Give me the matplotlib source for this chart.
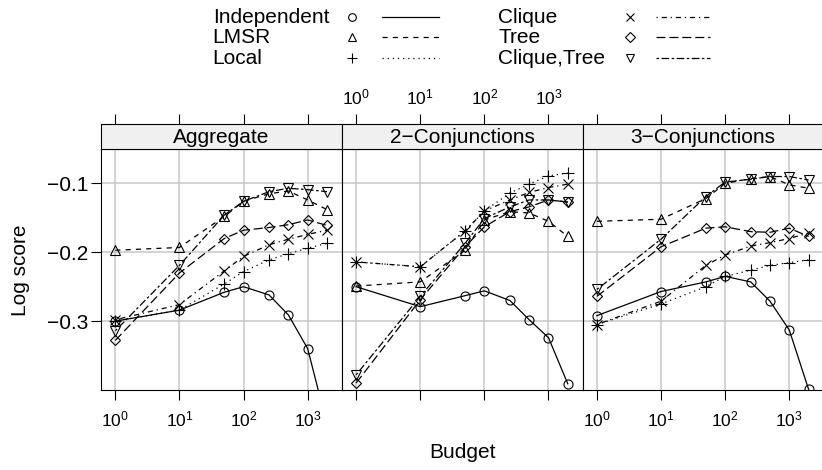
import matplotlib
matplotlib.use('Agg')
import matplotlib.pyplot as plt

plt.rcParams['font.family'] = ['Liberation Sans', 'DejaVu Sans']
plt.rcParams['mathtext.fontset'] = 'custom'
plt.rcParams['mathtext.rm'] = 'Liberation Sans'
plt.rcParams['lines.scale_dashes'] = False

# budgets on the x axis
budget = [1, 10, 50, 100, 250, 500, 1000, 2000]
panels = ['Aggregate', '2\u2212Conjunctions', '3\u2212Conjunctions']
methods = ['Independent', 'LMSR', 'Local', 'Clique', 'Tree', 'Clique,Tree']

# log scores
agg_independent = [-0.300, -0.284, -0.258, -0.250, -0.262, -0.291, -0.340, -0.450]
agg_lmsr = [-0.197, -0.193, -0.148, -0.126, -0.115, -0.111, -0.124, -0.138]
agg_local = [-0.300, -0.284, -0.246, -0.228, -0.211, -0.202, -0.194, -0.187]
agg_clique = [-0.298, -0.276, -0.227, -0.206, -0.189, -0.181, -0.174, -0.168]
agg_tree = [-0.328, -0.230, -0.180, -0.168, -0.164, -0.160, -0.153, -0.161]
agg_cliquetree = [-0.314, -0.219, -0.146, -0.126, -0.112, -0.107, -0.109, -0.112]

c2_independent = [-0.250, -0.279, -0.263, -0.256, -0.270, -0.298, -0.324, -0.391]
c2_lmsr = [-0.249, -0.243, -0.197, -0.153, -0.141, -0.143, -0.155, -0.177]
c2_local = [-0.214, -0.221, -0.169, -0.140, -0.114, -0.101, -0.089, -0.085]
c2_clique = [-0.214, -0.221, -0.169, -0.140, -0.124, -0.113, -0.106, -0.101]
c2_tree = [-0.390, -0.269, -0.192, -0.163, -0.141, -0.134, -0.124, -0.127]
c2_cliquetree = [-0.378, -0.264, -0.187, -0.151, -0.134, -0.124, -0.124, -0.127]

c3_independent = [-0.292, -0.257, -0.243, -0.235, -0.243, -0.271, -0.313, -0.399]
c3_lmsr = [-0.155, -0.152, -0.122, -0.100, -0.093, -0.090, -0.102, -0.107]
c3_local = [-0.305, -0.275, -0.250, -0.235, -0.226, -0.219, -0.215, -0.211]
c3_clique = [-0.305, -0.271, -0.219, -0.204, -0.191, -0.186, -0.180, -0.172]
c3_tree = [-0.264, -0.192, -0.165, -0.163, -0.170, -0.171, -0.165, -0.177]
c3_cliquetree = [-0.254, -0.181, -0.119, -0.098, -0.094, -0.090, -0.090, -0.095]

series = [
    [agg_independent, agg_lmsr, agg_local, agg_clique, agg_tree, agg_cliquetree],
    [c2_independent, c2_lmsr, c2_local, c2_clique, c2_tree, c2_cliquetree],
    [c3_independent, c3_lmsr, c3_local, c3_clique, c3_tree, c3_cliquetree],
]

# R-like pch / lty per method
markers = ['o', '^', '+', 'x', 'D', 'v']
msizes = [6.5, 7, 8, 6.5, 5.5, 7]
dashes = ['-', (0, (3.7, 3.7)), (0, (0.9, 2.8)), (0, (0.9, 2.8, 3.7, 2.8)),
          (0, (6.5, 2.8)), (0, (1.8, 1.8, 5.5, 1.8))]

W, H = 822, 470
fig = plt.figure(figsize=(W / 100, H / 100), dpi=100)


def px_axes(x0, y0, x1, y1):
    return fig.add_axes([x0 / W, 1 - y1 / H, (x1 - x0) / W, (y1 - y0) / H])


xlim = (10 ** -0.22, 10 ** 3.535)
xticks = [1, 10, 100, 1000]
xlabels = [r'$\mathregular{10^{%d}}$' % k for k in range(4)]
yticks = [-0.3, -0.2, -0.1]
pw = 240.8
FS = 15
TFS = 12.5

for i, name in enumerate(panels):
    x0 = 101.2 + i * pw
    ax = px_axes(x0, 149, x0 + pw, 390)
    st = px_axes(x0, 124, x0 + pw, 149)

    for j in range(len(methods)):
        ax.plot(budget, series[i][j], color='black', lw=0.9, linestyle=dashes[j],
                marker=markers[j], ms=msizes[j], mfc='none', mec='black', mew=0.8,
                zorder=3)

    ax.set_xscale('log')
    ax.set_xlim(*xlim)
    ax.set_ylim(-0.4, -0.05)
    ax.set_xticks(xticks)
    ax.set_xticklabels(xlabels, fontsize=TFS)
    ax.minorticks_off()
    ax.set_yticks(yticks)
    ax.set_yticklabels(['\u22120.3', '\u22120.2', '\u22120.1'], fontsize=FS)
    ax.grid(True, color='#c8c8c8', lw=1.1)
    ax.set_axisbelow(True)
    ax.tick_params(axis='x', direction='out', length=7, width=0.8, pad=7,
                   top=False, bottom=True, labelbottom=(i != 1))
    ax.tick_params(axis='y', direction='out', length=7, width=0.8, pad=2,
                   left=(i == 0), right=(i == 2), labelleft=(i == 0), labelright=False)
    for s in ax.spines.values():
        s.set_linewidth(0.8)

    st.set_facecolor('#f0f0f0')
    st.set_xscale('log')
    st.set_xlim(*xlim)
    st.set_xticks(xticks)
    st.set_xticklabels(xlabels, fontsize=TFS)
    st.minorticks_off()
    st.set_yticks([])
    st.tick_params(axis='x', direction='out', length=7, width=0.8, pad=5,
                   top=True, bottom=False, labeltop=(i == 1), labelbottom=False)
    for s in st.spines.values():
        s.set_linewidth(0.8)
    st.text(0.5, 0.45, name, transform=st.transAxes, ha='center', va='center',
            fontsize=FS)

fig.text(462 / W, 1 - 453 / H, 'Budget', ha='center', va='center', fontsize=FS)
fig.text(20 / W, 1 - 270 / H, 'Log score', ha='center', va='center',
         rotation=90, fontsize=FS)

# key at the top, drawn in pixel units
lg = fig.add_axes([0, 0, 1, 1])
lg.set_xlim(0, W)
lg.set_ylim(H, 0)
lg.axis('off')
cols = [(212.7, 351.7, 381.7, 439.3), (498.3, 630, 655.7, 710)]
rows = [22.9, 43.2, 63.5]
for j, m in enumerate(methods):
    tx, mx, l0, l1 = cols[j // 3]
    yb = rows[j % 3]
    lg.text(tx, yb, m, ha='left', va='baseline', fontsize=FS)
    lg.plot([mx], [yb - 6], marker=markers[j], ms=msizes[j] * 0.85, mfc='none',
            mec='black', mew=0.8, linestyle='none')
    lg.plot([l0, l1], [yb - 6, yb - 6], color='black', lw=0.9, linestyle=dashes[j])

fig.savefig('out.png', dpi=100)
